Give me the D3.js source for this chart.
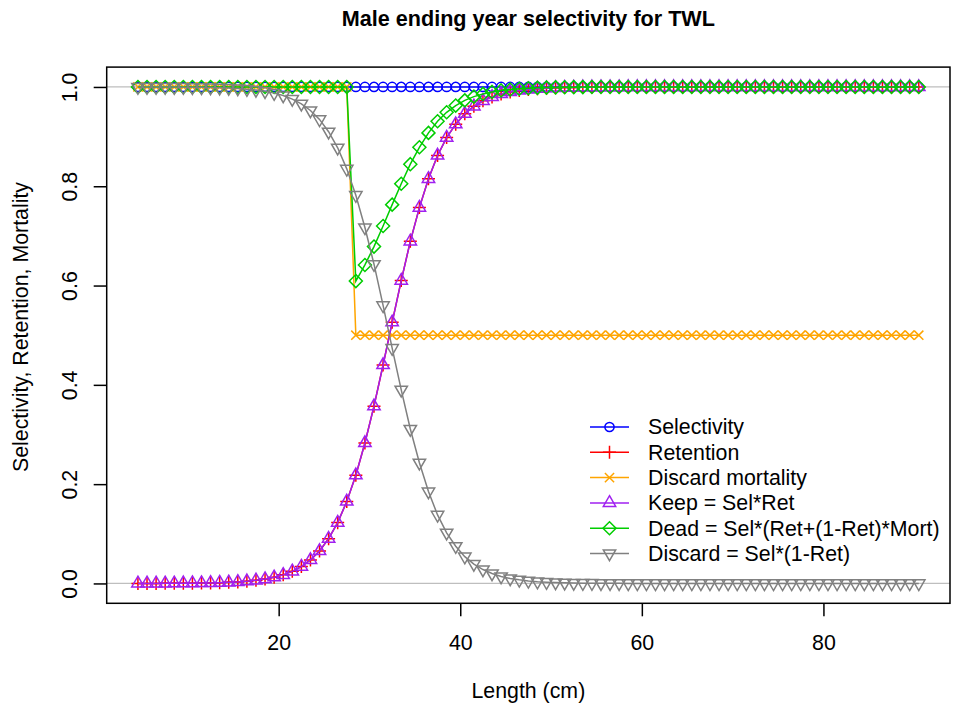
<!DOCTYPE html>
<html>
<head>
<meta charset="utf-8">
<script src="https://cdn.jsdelivr.net/npm/d3@7"></script>
<style>
  html, body { margin: 0; padding: 0; background: #ffffff; }
  svg { display: block; font-family: "Liberation Sans", Arial, sans-serif; }
</style>
</head>
<body>
<svg id="chart" width="953" height="710"></svg>
<script>
// ---------------- data ----------------
const lengths = [4.5,5.5,6.5,7.5,8.5,9.5,10.5,11.5,12.5,13.5,14.5,15.5,16.5,17.5,18.5,19.5,
  20.5,21.5,22.5,23.5,24.5,25.5,26.5,27.5,28.5,29.5,30.5,31.5,32.5,33.5,34.5,35.5,36.5,37.5,
  38.5,39.5,40.5,41.5,42.5,43.5,44.5,45.5,46.5,47.5,48.5,49.5,50.5,51.5,52.5,53.5,54.5,55.5,
  56.5,57.5,58.5,59.5,60.5,61.5,62.5,63.5,64.5,65.5,66.5,67.5,68.5,69.5,70.5,71.5,72.5,73.5,
  74.5,75.5,76.5,77.5,78.5,79.5,80.5,81.5,82.5,83.5,84.5,85.5,86.5,87.5,88.5,89.5,90.5];

const selectivity = [1,1,1,1,1,1,1,1,1,1,1,1,1,1,1,1,1,1,1,1,1,1,1,1,1,1,1,1,1,1,
  1,1,1,1,1,1,1,1,1,1,1,1,1,1,1,1,1,1,1,1,1,1,1,1,1,1,1,1,1,1,
  1,1,1,1,1,1,1,1,1,1,1,1,1,1,1,1,1,1,1,1,1,1,1,1,1,1,1];

const retention = [0.0001,0.0001,0.0001,0.0002,0.0003,0.0004,0.0006,0.0008,0.0011,0.0016,
  0.0022,0.0031,0.0044,0.0063,0.0088,0.0124,0.0173,0.0244,0.0339,0.0474,0.0654,0.0902,
  0.1225,0.165,0.218,0.283,0.357,0.440,0.526,0.610,0.689,0.757,0.815,0.862,0.898,0.925,
  0.946,0.961,0.972,0.980,0.986,0.990,0.9928,0.9949,0.9964,0.9974,0.9982,0.9987,0.9991,
  0.9994,0.9995,0.9997,0.9998,0.9998,0.9999,0.9999,0.9999,0.9999,
  1,1,1,1,1,1,1,1,1,1,1,1,1,1,1,1,1,1,1,1,1,1,1,1,1,1,1,1,1];

const discardMortality = [1,1,1,1,1,1,1,1,1,1,1,1,1,1,1,1,1,1,1,1,1,1,1,1,
  0.5,0.5,0.5,0.5,0.5,0.5,0.5,0.5,0.5,0.5,0.5,0.5,0.5,0.5,0.5,0.5,0.5,0.5,0.5,0.5,0.5,
  0.5,0.5,0.5,0.5,0.5,0.5,0.5,0.5,0.5,0.5,0.5,0.5,0.5,0.5,0.5,0.5,0.5,0.5,0.5,0.5,0.5,
  0.5,0.5,0.5,0.5,0.5,0.5,0.5,0.5,0.5,0.5,0.5,0.5,0.5,0.5,0.5,0.5,0.5,0.5,0.5,0.5,0.5];

const keep = [0.0001,0.0001,0.0001,0.0002,0.0003,0.0004,0.0006,0.0008,0.0011,0.0016,
  0.0022,0.0031,0.0044,0.0063,0.0088,0.0124,0.0173,0.0244,0.0339,0.0474,0.0654,0.0902,
  0.1225,0.165,0.218,0.283,0.357,0.440,0.526,0.610,0.689,0.757,0.815,0.862,0.898,0.925,
  0.946,0.961,0.972,0.980,0.986,0.990,0.9928,0.9949,0.9964,0.9974,0.9982,0.9987,0.9991,
  0.9994,0.9995,0.9997,0.9998,0.9998,0.9999,0.9999,0.9999,0.9999,
  1,1,1,1,1,1,1,1,1,1,1,1,1,1,1,1,1,1,1,1,1,1,1,1,1,1,1,1,1];

const dead = [1,1,1,1,1,1,1,1,1,1,1,1,1,1,1,1,1,1,1,1,1,1,1,1,
  0.609,0.6415,0.6785,0.720,0.763,0.805,0.8445,0.8785,0.9075,0.931,0.949,0.9625,0.973,
  0.9805,0.986,0.990,0.993,0.995,0.9964,0.9975,0.9982,0.9987,0.9991,0.9994,0.9996,0.9997,
  0.9998,0.9999,0.9999,0.9999,
  1,1,1,1,1,1,1,1,1,1,1,1,1,1,1,1,1,1,1,1,1,1,1,1,1,1,1,1,1,1,1,1,1];

const discard = [0.9999,0.9999,0.9999,0.9998,0.9997,0.9996,0.9994,0.9992,0.9989,0.9984,
  0.9978,0.9969,0.9956,0.9937,0.9912,0.9876,0.9827,0.9756,0.9661,0.9526,0.9346,0.9098,
  0.8775,0.835,0.782,0.717,0.643,0.560,0.474,0.390,0.311,0.243,0.185,0.138,0.102,0.075,
  0.054,0.039,0.028,0.020,0.014,0.010,0.0072,0.0051,0.0036,0.0026,0.0018,0.0013,0.0009,
  0.0006,0.0005,0.0003,0.0002,0.0002,0.0001,0.0001,0.0001,0.0001,
  0,0,0,0,0,0,0,0,0,0,0,0,0,0,0,0,0,0,0,0,0,0,0,0,0,0,0,0,0];

const xTicks = [20, 40, 60, 80];
const yTicks = [0, 0.2, 0.4, 0.6, 0.8, 1.0];
const yTickLabels = ["0.0", "0.2", "0.4", "0.6", "0.8", "1.0"];

const titleText = "Male ending year selectivity for TWL";
const xLabel = "Length (cm)";
const yLabel = "Selectivity, Retention, Mortality";

const seriesNames = ["Selectivity", "Retention", "Discard mortality", "Keep = Sel*Ret",
  "Dead = Sel*(Ret+(1-Ret)*Mort)", "Discard = Sel*(1-Ret)"];
const seriesValues = [selectivity, retention, discardMortality, keep, dead, discard];
const seriesColors = ["#0000FF", "#FF0000", "#FFA500", "#A020F0", "#00CD00", "#808080"];
const seriesSymbols = ["circle", "plus", "cross", "triUp", "diamond", "triDown"];

// ---------------- layout ----------------
const FONT = "Liberation Sans, Arial, sans-serif";
const FS = 21.33;
const svg = d3.select("#chart");
const plot = { left: 106.7, right: 950, top: 67.1, bottom: 603.3 };

const xExt = d3.extent(lengths);
const xPad = (xExt[1] - xExt[0]) * 0.04;
const x = d3.scaleLinear().domain([xExt[0] - xPad, xExt[1] + xPad]).range([plot.left, plot.right]);
const y = d3.scaleLinear().domain([-0.04, 1.04]).range([plot.bottom, plot.top]);

// symbol path generator (R pch style)
const R0 = 4.6;
function symbolPath(type, cx, cy) {
  const p = d3.path();
  if (type === "circle") {
    p.moveTo(cx + R0, cy); p.arc(cx, cy, R0, 0, 2 * Math.PI);
  } else if (type === "plus") {
    const a = R0 * Math.SQRT2;
    p.moveTo(cx - a, cy); p.lineTo(cx + a, cy);
    p.moveTo(cx, cy - a); p.lineTo(cx, cy + a);
  } else if (type === "cross") {
    const a = R0;
    p.moveTo(cx - a, cy - a); p.lineTo(cx + a, cy + a);
    p.moveTo(cx - a, cy + a); p.lineTo(cx + a, cy - a);
  } else if (type === "triUp" || type === "triDown") {
    const TRC0 = Math.sqrt(4 * Math.PI / (3 * Math.sqrt(3)));
    const r = TRC0 * R0, yc = TRC0 / 2 * R0, xc = TRC0 * Math.sqrt(3) / 2 * R0;
    const s = type === "triUp" ? 1 : -1;
    p.moveTo(cx, cy - s * r); p.lineTo(cx + xc, cy + s * yc); p.lineTo(cx - xc, cy + s * yc); p.closePath();
  } else if (type === "diamond") {
    const a = R0 * Math.SQRT2;
    p.moveTo(cx, cy - a); p.lineTo(cx + a, cy); p.lineTo(cx, cy + a); p.lineTo(cx - a, cy); p.closePath();
  }
  return p.toString();
}

// reference lines at 0 and 1
svg.append("g").selectAll("line").data([0, 1]).join("line")
  .attr("x1", plot.left).attr("x2", plot.right)
  .attr("y1", d => y(d)).attr("y2", d => y(d))
  .attr("stroke", "#BEBEBE").attr("stroke-width", 1.3);

// series
const LW = 1.5;
const line = d3.line().x(d => x(d[0])).y(d => y(d[1]));
seriesValues.forEach((vals, i) => {
  const pts = lengths.map((L, j) => [L, vals[j]]);
  const g = svg.append("g");
  g.append("path").attr("d", line(pts)).attr("fill", "none")
    .attr("stroke", seriesColors[i]).attr("stroke-width", LW);
  g.selectAll("path.pt").data(pts).join("path").attr("class", "pt")
    .attr("d", d => symbolPath(seriesSymbols[i], x(d[0]), y(d[1])))
    .attr("fill", "none").attr("stroke", seriesColors[i]).attr("stroke-width", LW);
});

// box
svg.append("rect").attr("x", plot.left).attr("y", plot.top)
  .attr("width", plot.right - plot.left).attr("height", plot.bottom - plot.top)
  .attr("fill", "none").attr("stroke", "#000").attr("stroke-width", 1.5);

// axes
const xAxis = svg.append("g").attr("transform", `translate(0,${plot.bottom})`)
  .call(d3.axisBottom(x).tickValues(xTicks).tickSize(13).tickPadding(0).tickFormat(d3.format("d")));
xAxis.select(".domain").remove();
xAxis.selectAll(".tick line").attr("stroke", "#000").attr("stroke-width", 1.5);
xAxis.selectAll(".tick text").attr("y", 642.5 - plot.bottom).attr("dy", "0.35em")
  .attr("font-size", FS).attr("fill", "#000").attr("font-family", FONT);

const yAxis = svg.append("g").attr("transform", `translate(${plot.left},0)`)
  .call(d3.axisLeft(y).tickValues(yTicks).tickSize(13).tickFormat((d, i) => yTickLabels[i]));
yAxis.select(".domain").remove();
yAxis.selectAll(".tick line").attr("stroke", "#000").attr("stroke-width", 1.5);
yAxis.selectAll(".tick text").remove();
yAxis.selectAll(".tick").append("text")
  .attr("transform", `translate(${69.5 - plot.left},0) rotate(-90)`)
  .attr("text-anchor", "middle").attr("dy", "0.35em")
  .attr("font-size", FS).attr("fill", "#000").attr("font-family", FONT)
  .text((d, i) => yTickLabels[i]);

// labels
const midX = (plot.left + plot.right) / 2;
svg.append("text").attr("x", midX).attr("y", 18).attr("dy", "0.35em")
  .attr("text-anchor", "middle").attr("font-weight", "bold").attr("font-size", 21.6)
  .attr("fill", "#000").text(titleText);
svg.append("text").attr("x", midX).attr("y", 691).attr("dy", "0.35em")
  .attr("text-anchor", "middle").attr("font-size", FS).attr("fill", "#000").text(xLabel);
svg.append("text").attr("transform", `translate(21,327) rotate(-90)`)
  .attr("dy", "0.35em").attr("text-anchor", "middle").attr("font-size", FS)
  .attr("fill", "#000").text(yLabel);

// legend
const legend = svg.append("g");
seriesNames.forEach((name, i) => {
  const ly = 427 + i * 25.3;
  legend.append("line").attr("x1", 590).attr("x2", 629).attr("y1", ly).attr("y2", ly)
    .attr("stroke", seriesColors[i]).attr("stroke-width", LW);
  legend.append("path").attr("d", symbolPath(seriesSymbols[i], 609.5, ly))
    .attr("fill", "none").attr("stroke", seriesColors[i]).attr("stroke-width", LW);
  legend.append("text").attr("x", 648).attr("y", ly).attr("dy", "0.35em")
    .attr("font-size", FS).attr("fill", "#000").text(name);
});
</script>
</body>
</html>
